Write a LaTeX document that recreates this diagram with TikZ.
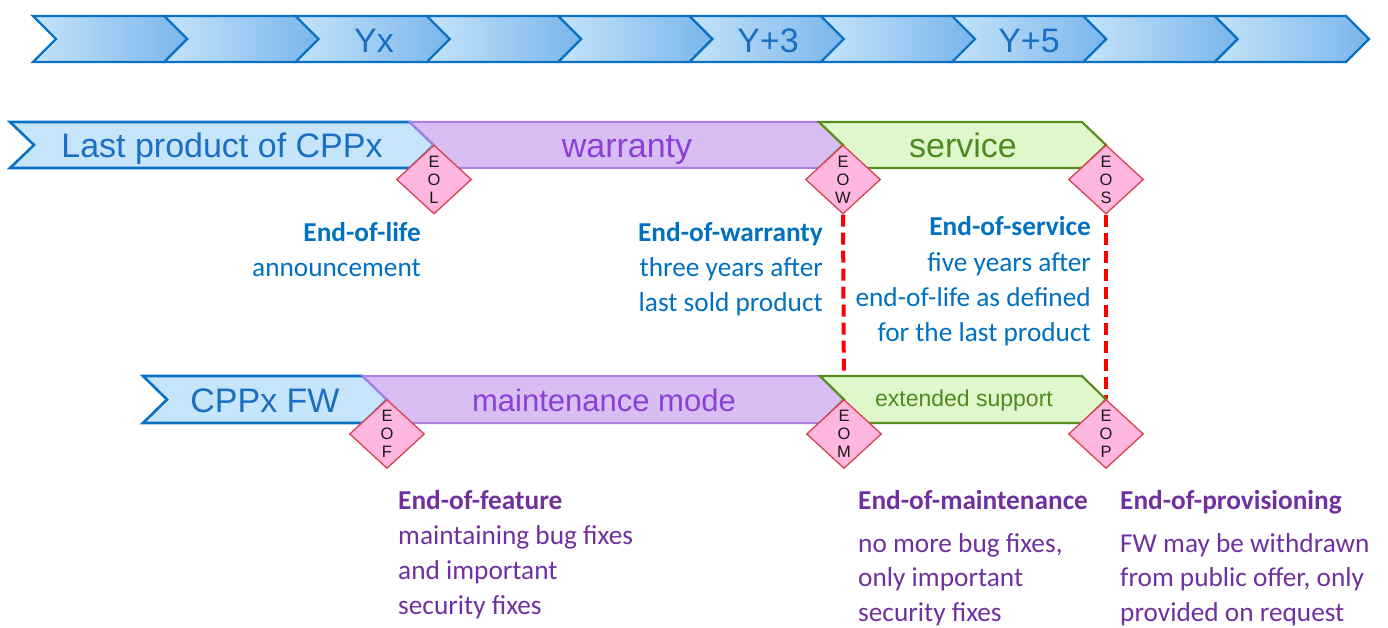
\documentclass[tikz,border=0pt]{standalone}
\usepackage{fontspec}
\setmainfont{Liberation Sans}
\newfontfamily\carl{Carlito}
\usetikzlibrary{shapes.geometric}
\pgfdeclarelayer{bg}
\pgfsetlayers{bg,main}
\definecolor{cborder}{HTML}{0A72C4}
\definecolor{ctext}{HTML}{1A6FC2}
\definecolor{tl}{HTML}{C4E3F9}
\definecolor{tm}{HTML}{A2C0D5}
\definecolor{tr}{HTML}{7AB5EC}
\definecolor{cbluefill}{HTML}{C6E5FA}
\definecolor{cpurpf}{HTML}{D9BEF3}
\definecolor{cpurpb}{HTML}{AE7DE5}
\definecolor{cpurpt}{HTML}{8A40D8}
\definecolor{cgreenf}{HTML}{E0F7CC}
\definecolor{cgreenb}{HTML}{558E1E}
\definecolor{cgreent}{HTML}{4E8A1E}
\definecolor{cdiaf}{HTML}{FFB6DF}
\definecolor{cdiab}{HTML}{D9434F}
\definecolor{cbt}{HTML}{0070C0}
\definecolor{cpt}{HTML}{7030A0}
\begin{document}
\begin{tikzpicture}[x=1pt,y=-1pt,
  tchev/.style={draw=cborder, line width=2.2pt, left color=tl, middle color=tm, right color=tr},
  bchev/.style={draw=cborder, line width=2.6pt, fill=cbluefill},
  pchev/.style={draw=cpurpb, line width=2pt, fill=cpurpf},
  gchev/.style={draw=cgreenb, line width=2.2pt, fill=cgreenf},
  dia/.style={diamond, draw=cdiab, fill=cdiaf, line width=1.3pt, minimum width=75pt, minimum height=69pt, inner sep=0pt, align=center, font=\fontsize{16.5}{18}\selectfont, text=black!90},
  bigt/.style={font=\fontsize{34}{40}\selectfont, inner sep=0pt, anchor=base},
  bt/.style={font=\carl\fontsize{27.3}{32}\selectfont, text=cbt, inner sep=0pt, anchor=base east},
  btb/.style={bt, font=\carl\bfseries\fontsize{27.3}{32}\selectfont},
  pt/.style={font=\carl\fontsize{27.3}{32}\selectfont, text=cpt, inner sep=0pt, anchor=base west},
  ptb/.style={pt, font=\carl\bfseries\fontsize{27.3}{32}\selectfont},
  reddash/.style={draw=red, line width=4pt, dash pattern=on 12pt off 6pt}]
\useasboundingbox (0,0) rectangle (1388,628);
% top timeline
\foreach \i in {0,...,9}{
  \pgfmathsetmacro\xa{33+131.3*\i}
  \pgfmathsetmacro\xb{\xa+131.3}
  \path[tchev] (\xa,16) -- (\xb,16) -- (\xb+23,39) -- (\xb,62) -- (\xa,62) -- (\xa+23,39) -- cycle;
}
\node[bigt, text=ctext] (yx) at (374,53) {Yx};
\node[bigt, text=ctext] (y3) at (768,53) {Y+3};
\node[bigt, text=ctext] (y5) at (1029,53) {Y+5};
% row 2
\path[bchev] (10,122) -- (410,122) -- (434,145) -- (410,168) -- (10,168) -- (34,145) -- cycle;
\path[pchev] (410,122) -- (819,122) -- (843,145) -- (819,168) -- (410,168) -- (434,145) -- cycle;
\path[gchev] (819,122) -- (1082,122) -- (1106,145) -- (1082,168) -- (819,168) -- (843,145) -- cycle;
\node[bigt, text=ctext] (lp) at (222,158) {Last product of CPPx};
\node[bigt, text=cpurpt] (war) at (627,158) {warranty};
\node[bigt, text=cgreent] (ser) at (963,158) {service};
% row 3
\path[bchev] (143,376) -- (363,376) -- (387,399.5) -- (363,423) -- (143,423) -- (167,399.5) -- cycle;
\path[pchev] (363,376) -- (820,376) -- (844,399.5) -- (820,423) -- (363,423) -- (387,399.5) -- cycle;
\path[gchev] (820,376) -- (1082,376) -- (1106,399.5) -- (1082,423) -- (820,423) -- (844,399.5) -- cycle;
\node[bigt, text=ctext] (fw) at (265,412) {CPPx FW};
\node[bigt, text=cpurpt, font=\fontsize{31}{36}\selectfont] (mm) at (604,411) {maintenance mode};
\node[bigt, text=cgreent, font=\fontsize{23}{28}\selectfont] (ext) at (964,406) {extended support};
% diamonds
\node[dia] (eol) at (434,179.5) {E\\O\\L};
\node[dia] (eow) at (843,179.5) {E\\O\\W};
\node[dia] (eos) at (1106,179.5) {E\\O\\S};
\node[dia] (eof) at (387,434) {E\\O\\F};
\node[dia] (eom) at (844,434) {E\\O\\M};
\node[dia] (eop) at (1106,434) {E\\O\\P};
\begin{pgfonlayer}{bg}
\draw[reddash] (eow.south) -- (eom.north);
\draw[reddash] (eos.south) -- (eop.north);
\end{pgfonlayer}
% blue texts
\node[btb] (eol1) at (421,241) {End-of-life};
\node[bt] (eol2) at (421,276) {announcement};
\node[btb] (eow1) at (823,241) {End-of-warranty};
\node[bt] (eow2) at (823,276) {three years after};
\node[bt] (eow3) at (823,311) {last sold product};
\node[btb] (eos1) at (1091,236) {End-of-service};
\node[bt] (eos2) at (1091,271) {five years after};
\node[bt] (eos3) at (1091,306) {end-of-life as defined};
\node[bt] (eos4) at (1091,341) {for the last product};
% purple texts
\node[ptb] (eof1) at (398,509) {End-of-feature};
\node[pt] (eof2) at (398,544) {maintaining bug fixes};
\node[pt] (eof3) at (398,579) {and important};
\node[pt] (eof4) at (398,614) {security fixes};
\node[ptb] (eom1) at (858,509) {End-of-maintenance};
\node[pt] (eom2) at (858,552) {no more bug fixes,};
\node[pt] (eom3) at (858,586.5) {only important};
\node[pt] (eom4) at (858,621) {security fixes};
\node[ptb] (eop1) at (1120,509) {End-of-provisioning};
\node[pt] (eop2) at (1120,552) {FW may be withdrawn};
\node[pt] (eop3) at (1120,586.5) {from public offer, only};
\node[pt] (eop4) at (1120,621) {provided on request};
\end{tikzpicture}
\end{document}
